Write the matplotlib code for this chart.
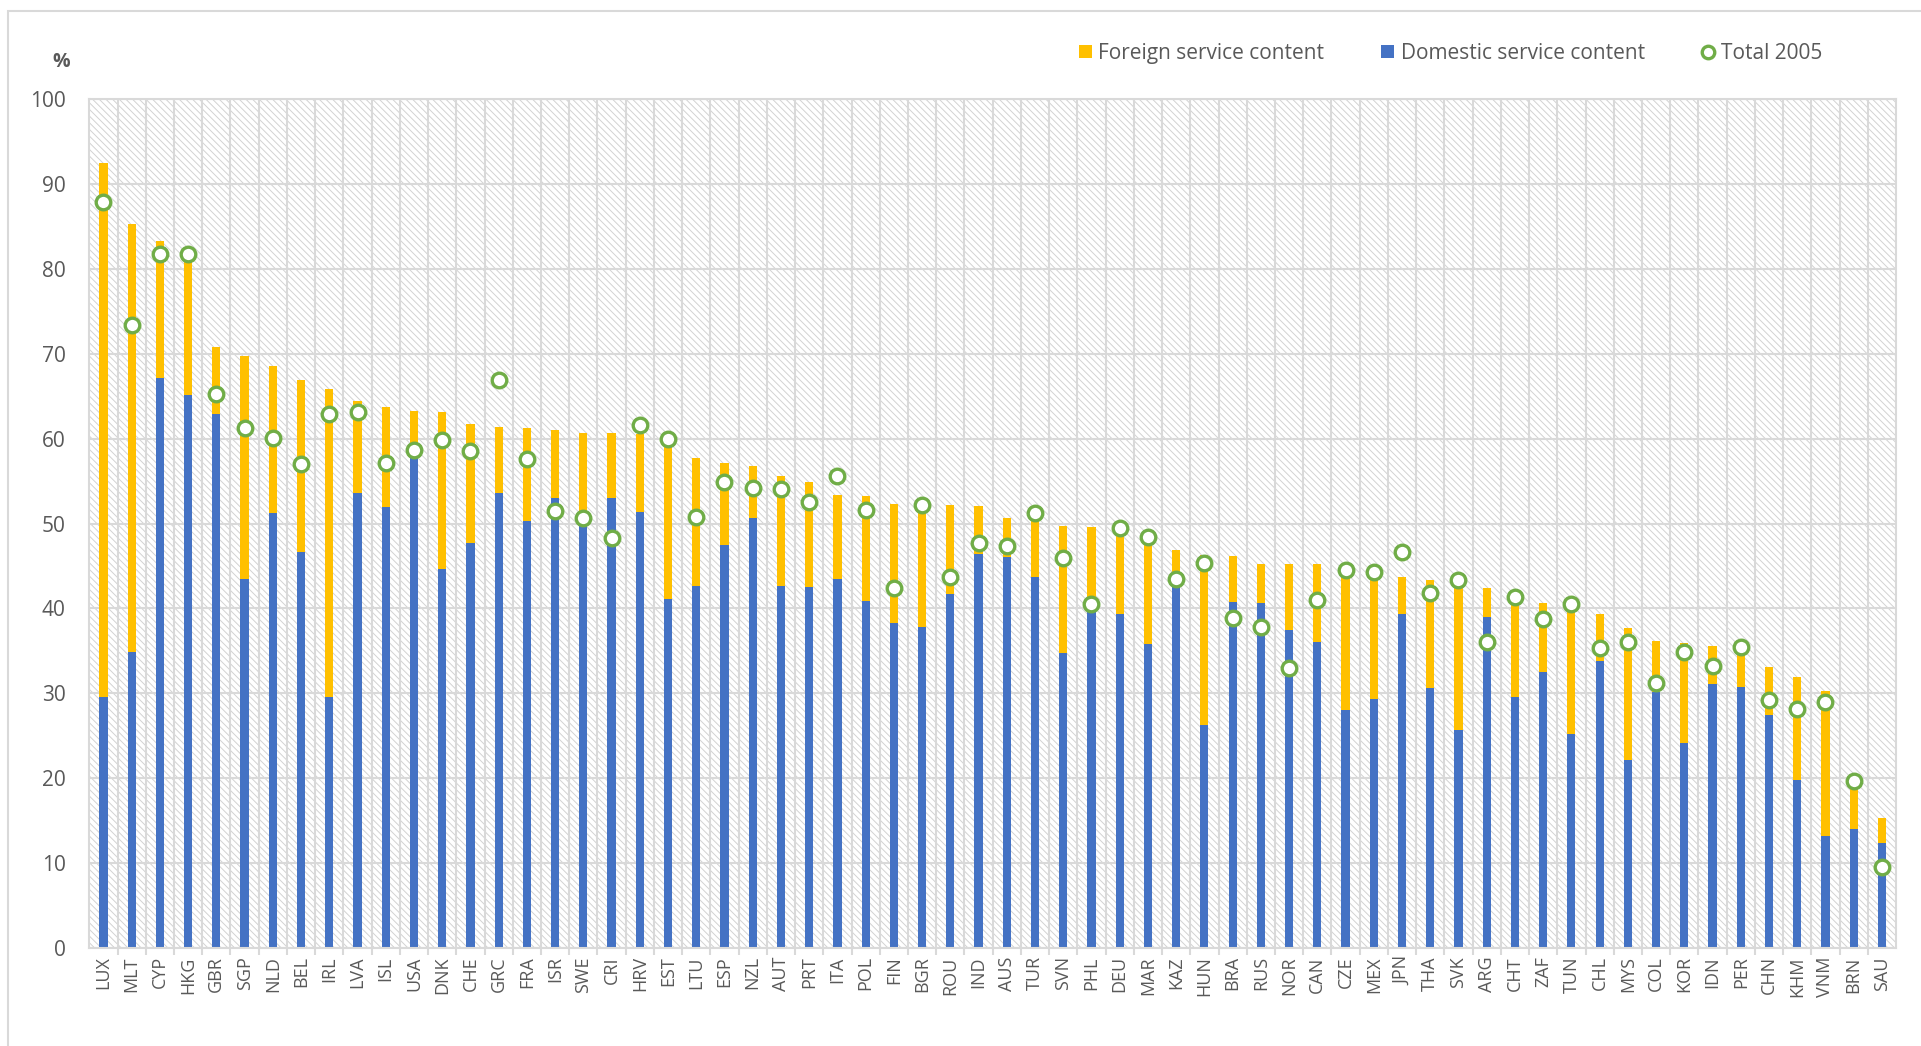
import matplotlib.pyplot as plt
import numpy as np
from matplotlib.patches import Patch, Rectangle
from matplotlib.lines import Line2D

plt.rcParams['font.family'] = ['Open Sans', 'DejaVu Sans']
plt.rcParams['hatch.color'] = '#D2D2D2'
plt.rcParams['hatch.linewidth'] = 0.7

countries = ['LUX', 'MLT', 'CYP', 'HKG', 'GBR', 'SGP', 'NLD', 'BEL', 'IRL', 'LVA',
             'ISL', 'USA', 'DNK', 'CHE', 'GRC', 'FRA', 'ISR', 'SWE', 'CRI', 'HRV',
             'EST', 'LTU', 'ESP', 'NZL', 'AUT', 'PRT', 'ITA', 'POL', 'FIN', 'BGR',
             'ROU', 'IND', 'AUS', 'TUR', 'SVN', 'PHL', 'DEU', 'MAR', 'KAZ', 'HUN',
             'BRA', 'RUS', 'NOR', 'CAN', 'CZE', 'MEX', 'JPN', 'THA', 'SVK', 'ARG',
             'CHT', 'ZAF', 'TUN', 'CHL', 'MYS', 'COL', 'KOR', 'IDN', 'PER', 'CHN',
             'KHM', 'VNM', 'BRN', 'SAU']

# domestic service content (blue, bottom of the stack)
domestic = [29.6, 34.9, 67.1, 65.1, 62.9, 43.5, 51.3, 46.6, 29.6, 53.6,
            52.0, 58.0, 44.6, 47.7, 53.6, 50.3, 53.0, 50.0, 53.0, 51.4,
            41.1, 42.6, 47.5, 50.7, 42.6, 42.5, 43.5, 40.9, 38.3, 37.8,
            41.7, 46.4, 46.1, 43.7, 34.8, 39.6, 39.3, 35.8, 42.5, 26.3,
            40.8, 40.6, 37.5, 36.1, 28.0, 29.3, 39.4, 30.6, 25.7, 39.0,
            29.6, 32.5, 25.2, 33.8, 22.2, 30.2, 24.2, 31.1, 30.8, 27.5,
            19.8, 13.2, 14.0, 12.4]

# foreign service content (yellow, stacked on top)
foreign = [62.9, 50.4, 16.2, 16.9, 7.9, 26.3, 17.3, 20.3, 36.2, 10.8,
           11.7, 5.3, 18.6, 14.0, 7.8, 11.0, 8.0, 10.7, 7.7, 9.2,
           19.3, 15.1, 9.6, 6.1, 13.0, 12.4, 9.9, 12.4, 14.0, 14.5,
           10.5, 5.7, 4.5, 6.6, 14.9, 10.0, 10.0, 12.3, 4.4, 20.0,
           5.4, 4.6, 7.7, 9.1, 17.0, 15.3, 4.3, 12.7, 17.5, 3.4,
           12.2, 8.2, 15.4, 5.5, 15.5, 6.0, 11.7, 4.5, 4.6, 5.6,
           12.1, 17.1, 6.0, 2.9]

# total 2005 (green circles)
total_2005 = [87.9, 73.4, 81.7, 81.8, 65.3, 61.3, 60.1, 57.0, 62.9, 63.2,
              57.1, 58.7, 59.8, 58.5, 66.9, 57.6, 51.5, 50.7, 48.3, 61.6,
              60.0, 50.8, 54.9, 54.2, 54.1, 52.6, 55.6, 51.6, 42.4, 52.2,
              43.7, 47.7, 47.4, 51.2, 46.0, 40.5, 49.5, 48.4, 43.5, 45.3,
              38.9, 37.8, 33.0, 41.0, 44.5, 44.3, 46.7, 41.8, 43.4, 36.0,
              41.3, 38.7, 40.5, 35.4, 36.1, 31.2, 34.9, 33.2, 35.5, 29.2,
              28.2, 29.0, 19.7, 9.5]

yticks = list(range(0, 101, 10))

YELLOW = '#FFC000'
BLUE = '#4472C4'
GREEN = '#70AD47'
GRID = '#D9D9D9'
TEXT = '#595959'

fig = plt.figure(figsize=(19.21, 10.46), dpi=100)
ax = fig.add_axes([0.0465, 0.0937, 0.9405, 0.8115])

x = np.arange(len(countries))

# hatched plot background
ax.add_patch(Rectangle((0, 0), 1, 1, transform=ax.transAxes, facecolor='white',
                       edgecolor='#D2D2D2', hatch='\\\\\\\\\\', linewidth=0, zorder=0))
ax.set_axisbelow(True)

ax.bar(x, domestic, width=0.29, color=BLUE, zorder=2)
ax.bar(x, foreign, width=0.29, bottom=domestic, color=YELLOW, zorder=2)
ax.plot(x, total_2005, linestyle='none', marker='o', markersize=10.5,
        markerfacecolor='white', markeredgecolor=GREEN, markeredgewidth=2.4, zorder=3)

ax.set_xlim(-0.5, len(countries) - 0.5)
ax.set_ylim(0, 100)
ax.set_yticks(yticks)
ax.set_yticklabels([str(t) for t in yticks], fontsize=15, color=TEXT)
ax.set_xticks(x)
ax.set_xticklabels(countries, rotation=90, fontsize=13, color=TEXT)
ax.set_xticks(x[:-1] + 0.5, minor=True)
ax.tick_params(axis='x', which='major', length=0, pad=6)
ax.tick_params(axis='x', which='minor', length=5, width=1.5, color=GRID)
ax.tick_params(axis='y', length=0, pad=17)

ax.grid(axis='y', color=GRID, linewidth=1.5)
ax.grid(axis='x', which='minor', color=GRID, linewidth=1.5)
for s in ax.spines.values():
    s.set_color(GRID)
    s.set_linewidth(1.5)

fig.text(0.032, 0.941, '%', fontsize=14, fontweight='bold', color=TEXT,
         ha='center', va='center')

handles = [Patch(facecolor=YELLOW, edgecolor='none'),
           Patch(facecolor=BLUE, edgecolor='none'),
           Line2D([], [], linestyle='none', marker='o', markersize=9,
                  markerfacecolor='white', markeredgecolor=GREEN, markeredgewidth=2.4)]
labels = ['Foreign service content', 'Domestic service content', 'Total 2005']
leg = fig.legend(handles, labels, loc='center', bbox_to_anchor=(0.755, 0.949), ncol=3,
                 frameon=False, fontsize=15, handlelength=0.65, handleheight=0.65,
                 handletextpad=0.3, columnspacing=2.7, labelcolor=TEXT)

# outer chart border
fig.patches.append(Rectangle((0.0042, -0.5), 1.5, 1.4895, transform=fig.transFigure,
                             facecolor='none', edgecolor=GRID, linewidth=1.5, zorder=0))

fig.savefig('out.png', dpi=100)
